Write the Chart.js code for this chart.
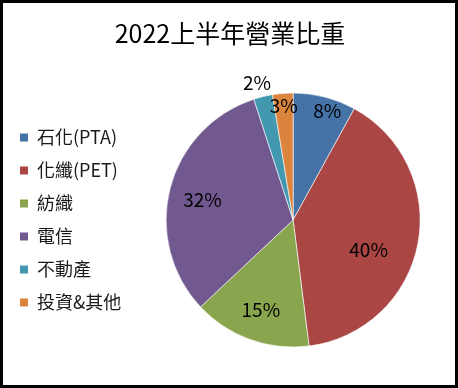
<!DOCTYPE html>
<html>
<head>
<meta charset="utf-8">
<script src="https://cdn.jsdelivr.net/npm/chart.js@4.4.1/dist/chart.umd.min.js"></script>
<style>
  html, body { margin: 0; padding: 0; background: #fff; }
  #wrap { position: relative; width: 458px; height: 388px; box-sizing: border-box; border: 3px solid #000; background: #fff; }
  #chart { display: block; }
</style>
</head>
<body>
<div id="wrap"><canvas id="chart" width="452" height="382"></canvas></div>
<script>
// chart data
const chartTitle = '2022上半年營業比重';
const categories = ['石化(PTA)', '化纖(PET)', '紡織', '電信', '不動產', '投資&其他'];
const shares = [8, 40, 15, 32, 2.4, 2.6];
const shareLabels = ['8%', '40%', '15%', '32%', '2%', '3%'];
const sliceColors = ['#4572A7', '#AA4643', '#89A54E', '#71588F', '#4198AF', '#DB843D'];

// label placement: [fraction of radius, angle shift in degrees]
const labelPlace = [[0.9, 3], [0.64, 11], [0.75, 0], [0.73, -2], [1.12, -1], [0.9, 0]];

const cjkFont = '"Noto Sans CJK TC", "Noto Sans", sans-serif';
Chart.defaults.font.family = cjkFont;

// draws the percentage labels on the slices
const pieLabels = {
  id: 'pieLabels',
  afterDatasetsDraw(chart) {
    const ctx = chart.ctx;
    const arcs = chart.getDatasetMeta(0).data;
    ctx.save();
    ctx.font = '19px ' + cjkFont;
    ctx.fillStyle = '#000';
    ctx.textAlign = 'center';
    ctx.textBaseline = 'middle';
    arcs.forEach((arc, i) => {
      const p = arc.getProps(['x', 'y', 'startAngle', 'endAngle', 'outerRadius']);
      const [k, shift] = labelPlace[i];
      const a = (p.startAngle + p.endAngle) / 2 + shift * Math.PI / 180;
      ctx.fillText(shareLabels[i], p.x + Math.cos(a) * p.outerRadius * k, p.y + Math.sin(a) * p.outerRadius * k);
    });
    ctx.restore();
  }
};

const ctx = document.getElementById('chart').getContext('2d');
new Chart(ctx, {
  type: 'pie',
  data: {
    labels: categories,
    datasets: [{
      data: shares,
      backgroundColor: sliceColors,
      borderColor: 'rgba(255,255,255,0.6)',
      borderWidth: 1,
      radius: 127
    }]
  },
  options: {
    responsive: false,
    animation: false,
    layout: { padding: { left: 2, right: 0, top: 0, bottom: 3 } },
    plugins: {
      title: {
        display: true,
        text: chartTitle,
        color: '#000',
        font: { size: 25, weight: 'normal' },
        padding: { top: 15, bottom: 10 }
      },
      legend: {
        position: 'left',
        fullSize: false,
        labels: {
          boxWidth: 8,
          boxHeight: 8,
          padding: 15,
          color: '#1a1a1a',
          font: { size: 18 },
          generateLabels(chart) {
            const base = Chart.overrides.pie.plugins.legend.labels.generateLabels(chart);
            return base.map(l => Object.assign(l, { lineWidth: 0 }));
          }
        }
      },
      tooltip: { enabled: false }
    }
  },
  plugins: [pieLabels]
});
</script>
</body>
</html>
